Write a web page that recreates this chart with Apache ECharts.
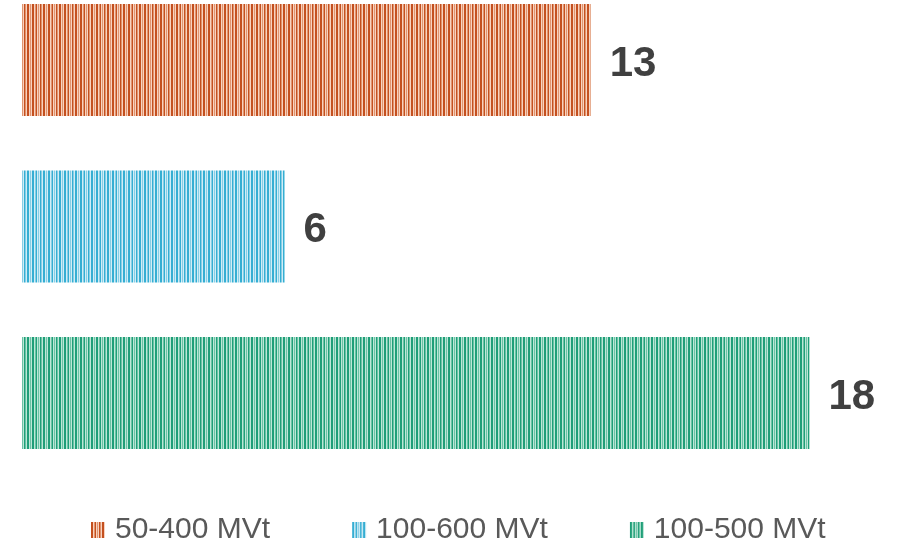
<!DOCTYPE html>
<html>
<head>
<meta charset="utf-8">
<script src="https://cdn.jsdelivr.net/npm/echarts@6/dist/echarts.min.js"></script>
<style>
  html, body { margin: 0; padding: 0; background: #ffffff; }
  #chart { width: 897px; height: 542px; }
</style>
</head>
<body>
<div id="chart"></div>
<script>
// Capacity ranges and counts
var categories = ['50-400 MVt', '100-600 MVt', '100-500 MVt'];
var counts = [13, 6, 18];
var xMin = 0;
var xMax = 20;

// Striped fill palettes: [dark, mid, light]
var stripeColors = [
  ['#C4501F', '#E09570', '#F8D2BF'],
  ['#35AED3', '#88CEE5', '#D0EDF6'],
  ['#1F9E78', '#6CC2A5', '#BCE7D7']
];

// Vertical stripe pattern tile
function stripePattern(cols) {
  var seq = [0, 0, 2, 1, 0, 2, 1, 2, 0, 1, 2, 0, 0, 2, 1, 2];
  var c = document.createElement('canvas');
  c.width = seq.length;
  c.height = 4;
  var ctx = c.getContext('2d');
  for (var i = 0; i < seq.length; i++) {
    ctx.fillStyle = cols[seq[i]];
    ctx.fillRect(i, 0, 1, 4);
  }
  return { image: c, repeat: 'repeat' };
}

var series = categories.map(function (name, i) {
  var data = categories.map(function (_, j) { return j === i ? counts[i] : '-'; });
  return {
    name: name,
    type: 'bar',
    data: data,
    barWidth: 112,
    barGap: '-100%',
    clip: false,
    itemStyle: { color: stripePattern(stripeColors[i]) },
    label: {
      show: true,
      position: 'right',
      distance: 19,
      offset: [0, 4],
      fontFamily: 'Liberation Sans, Arial, sans-serif',
      fontSize: 42,
      fontWeight: 'bold',
      color: '#404040'
    },
    emphasis: { disabled: true },
    animation: false
  };
});

var chart = echarts.init(document.getElementById('chart'), null, { renderer: 'canvas' });
chart.setOption({
  backgroundColor: '#ffffff',
  animation: false,
  grid: { left: 22, top: 60, width: 886, height: 333, containLabel: false },
  xAxis: {
    type: 'value',
    min: xMin,
    max: xMax,
    show: false
  },
  yAxis: {
    type: 'category',
    data: categories,
    inverse: true,
    boundaryGap: false,
    show: false
  },
  legend: {
    data: categories,
    left: 86,
    top: 510,
    itemWidth: 14,
    itemHeight: 16,
    itemGap: 82,
    icon: 'rect',
    selectedMode: false,
    textStyle: {
      fontFamily: 'Liberation Sans, Arial, sans-serif',
      fontSize: 30,
      color: '#595959',
      padding: [0, 0, 0, 5]
    }
  },
  series: series
});
</script>
</body>
</html>
